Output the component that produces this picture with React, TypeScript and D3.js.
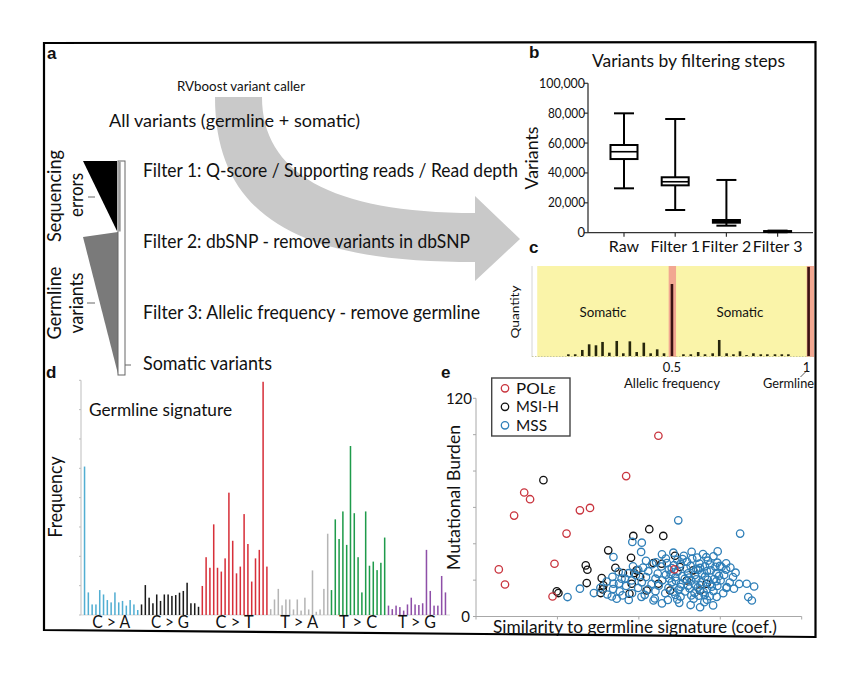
import React from 'react'
import * as d3 from 'd3'

// fonts / colours
const FONT = 'Lato, "Open Sans", "Liberation Sans", sans-serif'
const BOLD = '"Liberation Sans", Arial, sans-serif'
const INK = '#111111'

// ---- panel b: variants by filtering step (box plot)
const boxSteps = ['Raw', 'Filter 1', 'Filter 2', 'Filter 3']
const boxMin = [29700, 15200, 4700, 300]
const boxQ1 = [49300, 31700, 6700, 500]
const boxMedian = [54200, 34100, 7600, 800]
const boxQ3 = [58700, 37100, 8500, 1100]
const boxMax = [79900, 76100, 35300, 1400]
const boxTicks = [0, 20000, 40000, 60000, 80000, 100000]

// ---- panel c: allelic frequency histogram
const afBins = [0.121, 0.146, 0.172, 0.197, 0.222, 0.246, 0.271, 0.298, 0.322, 0.346, 0.371, 0.397, 0.422, 0.446, 0.471,
  0.542, 0.569, 0.596, 0.621, 0.649, 0.673, 0.7, 0.725, 0.749, 0.773, 0.798, 0.825, 0.849, 0.877, 0.902, 0.926]
const afQuantity = [1.9, 1.9, 6.7, 13, 11.9, 15.6, 3.7, 16.7, 3, 16.3, 4.4, 14.8, 3, 7.4, 3,
  1.9, 1.9, 4.4, 1.9, 3, 17.8, 3, 1.9, 5.2, 1, 3, 1.9, 1.9, 1.9, 1.9, 1.9]
const afPeaks = [0.5, 1]
const afPeakQuantity = [80, 99]

// ---- panel d: germline signature (96 channels)
const sigGroups = ['C > A', 'C > G', 'C > T', 'T > A', 'T > C', 'T > G']
const sigGroupSizes = [15, 16, 18, 16, 15, 16]
const sigColors = ['#52aed2', '#1a1a1a', '#d7303a', '#b5b5b5', '#1f9b4b', '#8e4fa8']
const sigValues = [
  5.06, 0.77, 0.36, 0.36, 0.85, 0.7, 0.51, 0.43, 0.77, 0.43, 0.48, 0.32, 0.51, 0.36, 0.17,
  0.36, 1.02, 0.59, 0.4, 0.7, 0.48, 0.7, 0.7, 0.65, 0.68, 0.76, 0.82, 1.1, 0.4, 0.4, 0.28,
  0.99, 1.97, 1.61, 3.09, 1.61, 1.48, 1.93, 4.17, 2.53, 1.42, 1.65, 3.44, 2.42, 1.14, 1.93, 2.22, 7.95, 1.65,
  0.2, 0.53, 0.89, 0.33, 0.53, 0.53, 0.19, 0.53, 0.15, 0.59, 0.19, 1.52, 0.11, 0.19, 0.89, 2.77,
  0.85, 3.26, 2.59, 3.53, 2.39, 5.76, 3.47, 1.97, 0.77, 3.53, 1.68, 1.82, 1.53, 1.78, 2.64,
  0.32, 0.2, 0.32, 0.27, 0.15, 0.36, 0.59, 0.36, 0.34, 0.4, 2.22, 0.82, 0.32, 0.32, 1.33, 0.77,
]
const sigTicks = [0, 1, 2, 3, 4, 5, 6, 7, 8]

// ---- panel e: mutational burden vs similarity
const burdenTicks = [0, 20, 40, 60, 80, 100, 120]
const similarityTicks = [0, 0.25, 0.5, 0.75, 1]
const poleData = [[0.56, 99.4], [0.461, 77.2], [0.148, 68.2], [0.166, 64.5], [0.117, 55.5], [0.319, 58.4], [0.35, 59.7],
  [0.278, 45.6], [0.241, 29.0], [0.07, 25.9], [0.089, 17.6], [0.235, 11.0], [0.609, 25.9]]
const msiData = [[0.207, 75.0], [0.532, 48.0], [0.483, 44.3], [0.575, 44.3], [0.406, 36.4], [0.476, 32.3], [0.337, 28.1],
  [0.342, 25.7], [0.428, 26.8], [0.451, 23.9], [0.493, 25.4], [0.486, 23.9], [0.386, 21.1], [0.34, 18.4], [0.391, 17.1],
  [0.389, 14.9], [0.248, 13.8], [0.253, 12.9], [0.383, 12.9], [0.471, 12.5], [0.504, 21.7], [0.545, 29.4], [0.57, 29.0],
  [0.611, 33.4], [0.626, 27.2], [0.56, 18.0], [0.596, 14.3], [0.647, 19.8], [0.667, 25.4], [0.688, 14.3], [0.708, 18.0],
  [0.524, 14.3], [0.478, 18.0]]
const mssData = [[0.621, 52.9], [0.811, 45.6], [0.48, 41.0], [0.509, 40.6], [0.507, 35.5], [0.422, 32.7], [0.319, 15.3],
  [0.281, 10.7], [0.417, 11.0], [0.45, 11.6], [0.422, 18.0], [0.447, 20.8], [0.831, 18.0], [0.854, 16.5], [0.847, 8.8],
  [0.836, 10.7], [0.792, 15.3], [0.77, 16.2], [0.754, 27.2], [0.688, 5.1], [0.624, 7.5], [0.545, 8.8],
  [0.571, 34.2], [0.606, 35.1], [0.638, 33.4], [0.662, 35.6], [0.697, 34.3], [0.729, 33.1], [0.742, 35.8],
  [0.522, 30.6], [0.553, 29.8], [0.583, 31.9], [0.618, 31.2], [0.648, 30.1], [0.679, 32.4], [0.712, 30.7], [0.741, 29.6], [0.768, 29.2],
  [0.482, 27.6], [0.513, 26.9], [0.541, 28.8], [0.569, 27.5], [0.601, 26.6], [0.628, 28.9], [0.659, 27.8], [0.688, 26.7], [0.718, 28.6], [0.749, 27.8], [0.781, 26.9],
  [0.438, 24.6], [0.468, 23.8], [0.498, 25.7], [0.529, 24.9], [0.558, 23.6], [0.592, 25.8], [0.619, 24.7], [0.651, 23.7], [0.682, 25.6], [0.709, 24.9], [0.738, 23.8], [0.768, 25.8], [0.797, 24.1],
  [0.419, 21.8], [0.458, 20.9], [0.491, 22.7], [0.522, 21.7], [0.551, 20.8], [0.583, 22.9], [0.612, 21.6], [0.641, 20.7], [0.672, 22.8], [0.703, 21.9], [0.731, 20.6], [0.762, 22.8], [0.789, 21.7],
  [0.401, 19.2], [0.439, 18.1], [0.478, 19.8], [0.509, 18.8], [0.539, 17.9], [0.572, 19.9], [0.601, 18.8], [0.629, 17.8], [0.661, 19.7], [0.692, 18.9], [0.719, 17.9], [0.751, 19.8], [0.779, 18.7], [0.808, 17.9],
  [0.382, 15.8], [0.421, 15.1], [0.461, 16.8], [0.498, 15.7], [0.528, 14.9], [0.561, 16.9], [0.591, 15.8], [0.622, 14.8], [0.651, 16.9], [0.681, 15.9], [0.709, 14.9], [0.741, 16.8], [0.769, 15.7],
  [0.362, 12.9], [0.403, 12.1], [0.441, 13.8], [0.479, 12.8], [0.518, 11.9], [0.551, 13.9], [0.581, 12.8], [0.612, 11.9], [0.642, 13.8], [0.671, 12.9], [0.702, 11.8], [0.729, 13.9], [0.759, 12.8],
  [0.432, 9.8], [0.469, 9.1], [0.508, 10.8], [0.549, 9.9], [0.589, 9.1], [0.628, 10.9], [0.668, 9.8], [0.709, 9.2], [0.739, 10.8],
  [0.571, 7.2], [0.659, 6.3], [0.701, 7.9], [0.728, 6.1],
  [0.598, 23.4], [0.646, 26.4], [0.676, 20.4], [0.703, 27.6], [0.656, 15.4], [0.614, 19.6], [0.694, 23.6], [0.724, 16.4],
  [0.586, 29.4], [0.634, 31.6], [0.686, 29.1], [0.699, 13.4], [0.618, 9.4], [0.661, 11.6], [0.721, 25.4], [0.738, 19.4],
  [0.664, 31.8], [0.707, 32.6], [0.633, 22.2], [0.689, 17.2], [0.746, 22.3], [0.676, 26.2], [0.608, 28.2], [0.718, 11.2],
  [0.628, 16.2], [0.672, 17.6], [0.712, 20.2], [0.654, 21.4], [0.606, 13.6], [0.684, 11.4], [0.735, 27.3], [0.593, 20.9]]
const legendItems = ['POLε', 'MSI-H', 'MSS']
const legendColors = ['#c9343e', '#111111', '#2f7fb8']

// small text helper; len forces the width of the reference's narrow font
function T(props: any) {
  const { x, y, size, anchor = 'start', len, weight, rotate, fill = INK, family = FONT, children } = props
  const common: any = {
    fontFamily: family, fontSize: size, textAnchor: anchor, fill, fontWeight: weight,
  }
  if (len) { common.textLength = len; common.lengthAdjust = 'spacingAndGlyphs' }
  if (rotate) {
    return <text transform={`translate(${x},${y}) rotate(-90)`} {...common}>{children}</text>
  }
  return <text x={x} y={y} {...common}>{children}</text>
}

function PanelA() {
  return (
    <g>
      {/* big curved arrow */}
      <path d="M215,97 C215,230 320,262 475,262 L475,281 L520,239 L475,196 L475,213 C330,213 262,172 262,97 Z" fill="#c9c9c9" />
      {/* filtering wedges */}
      <path d="M83,161 L117,161 L117,231 Z" fill="#000" />
      <path d="M83,237 L118,232 L118,374 Z" fill="#7a7a7a" />
      <rect x={118} y={161} width={7} height={214} fill="#fff" stroke="#666" strokeWidth={1} />
      <rect x={118.5} y={161.5} width={2.2} height={70} fill="#999" />
      <line x1={88} y1={197} x2={95} y2={197} stroke="#666" />
      <line x1={87} y1={303} x2={95} y2={303} stroke="#666" />
      <line x1={125} y1={365} x2={131} y2={365} stroke="#666" />
      <T x={47} y={59} size={17} weight="bold" family={BOLD}>a</T>
      <T x={177} y={91} size={13} len={128}>RVboost variant caller</T>
      <T x={109} y={127} size={18} len={251}>All variants (germline + somatic)</T>
      <T x={143} y={177} size={19} len={375}>Filter 1: Q-score / Supporting reads / Read depth</T>
      <T x={143} y={248} size={19} len={327}>Filter 2: dbSNP - remove variants in dbSNP</T>
      <T x={143} y={319} size={19} len={337}>Filter 3: Allelic frequency - remove germline</T>
      <T x={143} y={370} size={19} len={129}>Somatic variants</T>
      <T x={61} y={196} size={19} anchor="middle" rotate len={92}>Sequencing</T>
      <T x={83} y={195} size={19} anchor="middle" rotate len={44}>errors</T>
      <T x={61} y={303} size={19} anchor="middle" rotate len={73}>Germline</T>
      <T x={83} y={303} size={19} anchor="middle" rotate len={61}>variants</T>
    </g>
  )
}

function PanelB() {
  const x = d3.scaleBand().domain(boxSteps).range([598.4, 803.2])
  const y = d3.scaleLinear().domain([0, 100000]).range([232.7, 83.3])
  const boxW = 27
  const capW = 20
  return (
    <g>
      <T x={529} y={58} size={17} weight="bold" family={BOLD}>b</T>
      <T x={688.5} y={67} size={17} anchor="middle" len={193}>Variants by filtering steps</T>
      <line x1={588} y1={y(100000)} x2={588} y2={y(0)} stroke="#333" strokeWidth={1.3} />
      <line x1={588} y1={y(0)} x2={813} y2={y(0)} stroke="#333" strokeWidth={1.3} />
      {boxTicks.map((t) => (
        <g key={t}>
          <line x1={584} x2={588} y1={y(t)} y2={y(t)} stroke="#333" strokeWidth={1.2} />
          <T x={585} y={y(t) + 4.5} size={13} anchor="end" len={t === 0 ? undefined : t === 100000 ? 46 : 37}>{d3.format(',')(t)}</T>
        </g>
      ))}
      <T x={538} y={158} size={18} anchor="middle" rotate len={63}>Variants</T>
      {boxSteps.map((s, i) => {
        const cx = (x(s) as number) + x.bandwidth() / 2
        return (
          <g key={s}>
            <line x1={cx} x2={cx} y1={y(0)} y2={y(0) + 4} stroke="#333" strokeWidth={1.2} />
            <T x={cx} y={252} size={16} anchor="middle">{s}</T>
            <line x1={cx} x2={cx} y1={y(boxMin[i])} y2={y(boxMax[i])} stroke="#000" strokeWidth={2} />
            <line x1={cx - capW / 2} x2={cx + capW / 2} y1={y(boxMax[i])} y2={y(boxMax[i])} stroke="#000" strokeWidth={2} />
            <line x1={cx - capW / 2} x2={cx + capW / 2} y1={y(boxMin[i])} y2={y(boxMin[i])} stroke="#000" strokeWidth={2} />
            <rect x={cx - boxW / 2} width={boxW} y={y(boxQ3[i])} height={y(boxQ1[i]) - y(boxQ3[i])} fill="#fff" stroke="#000" strokeWidth={2} />
            <line x1={cx - boxW / 2} x2={cx + boxW / 2} y1={y(boxMedian[i])} y2={y(boxMedian[i])} stroke="#000" strokeWidth={1.6} />
          </g>
        )
      })}
    </g>
  )
}

function PanelC() {
  const x = d3.scaleLinear().domain([0, 1]).range([535.3, 808.6])
  const y = d3.scaleLinear().domain([0, 100]).range([356, 266])
  return (
    <g>
      <T x={529} y={253} size={17} weight="bold" family={BOLD}>c</T>
      <rect x={x(0.007)} y={266} width={x(1.02) - x(0.007)} height={91} fill="#faf4a9" />
      <rect x={x(0.488)} y={266} width={x(0.515) - x(0.488)} height={91} fill="#f2a791" />
      <rect x={x(0.993)} y={266} width={x(1.02) - x(0.993)} height={91} fill="#f2a791" />
      <line x1={532} x2={532} y1={266} y2={357} stroke="#d4d4d4" strokeWidth={1} />
      <line x1={532} x2={812} y1={356.5} y2={356.5} stroke="#c8c8a0" strokeWidth={1} strokeDasharray="1.5,1.5" />
      {afBins.map((f, i) => (
        <rect key={i} x={x(f) - 1.3} width={2.6} y={y(afQuantity[i])} height={y(0) - y(afQuantity[i])} fill="#26260c" />
      ))}
      {afPeaks.map((f, i) => (
        <rect key={f} x={x(f) - 1.3} width={2.6} y={y(afPeakQuantity[i])} height={y(0) - y(afPeakQuantity[i])} fill="#3b1212" />
      ))}
      <T x={603} y={317} size={14} anchor="middle" len={47}>Somatic</T>
      <T x={740} y={317} size={14} anchor="middle" len={47}>Somatic</T>
      <T x={519} y={312} size={12} anchor="middle" rotate len={53}>Quantity</T>
      <T x={x(0.5)} y={372} size={13} anchor="middle">0.5</T>
      <T x={x(1) - 2} y={372} size={13} anchor="middle">1</T>
      <line x1={800.5} y1={377} x2={807.5} y2={370} stroke="#333" strokeWidth={0.8} />
      <T x={672} y={388} size={14} anchor="middle" len={96}>Allelic frequency</T>
      <T x={814} y={388} size={14} anchor="end" len={51}>Germline</T>
    </g>
  )
}

function PanelD() {
  const n = sigValues.length
  const x = d3.scaleBand<number>().domain(d3.range(n)).range([81.5, 448.5]).padding(0.6)
  const y = d3.scaleLinear().domain([0, 8]).range([615, 380.3])
  const groupOf: number[] = []
  sigGroupSizes.forEach((s, g) => { for (let k = 0; k < s; k++) groupOf.push(g) })
  let start = 0
  const groupCenters = sigGroupSizes.map((s) => {
    const c = ((x(start) as number) + (x(start + s - 1) as number)) / 2 + x.bandwidth() / 2
    start += s
    return c
  })
  return (
    <g>
      <T x={46} y={378} size={17} weight="bold" family={BOLD}>d</T>
      <line x1={81} x2={81} y1={y(8)} y2={y(0)} stroke="#bdbdbd" strokeWidth={1} />
      {sigTicks.map((t) => (
        <line key={t} x1={79} x2={81} y1={y(t)} y2={y(t)} stroke="#bdbdbd" strokeWidth={1} />
      ))}
      <line x1={81} x2={450} y1={y(0)} y2={y(0)} stroke="#cfcfcf" strokeWidth={0.8} />
      {sigValues.map((v, i) => (
        <rect key={i} x={x(i)} width={x.bandwidth()} y={y(v)} height={y(0) - y(v)} fill={sigColors[groupOf[i]]} />
      ))}
      <T x={89} y={416} size={17} len={143}>Germline signature</T>
      <T x={62} y={497} size={19} anchor="middle" rotate len={81}>Frequency</T>
      {sigGroups.map((g, i) => (
        <T key={g} x={groupCenters[i]} y={628} size={17} anchor="middle" len={38}>{g}</T>
      ))}
    </g>
  )
}

function PanelE() {
  const x = d3.scaleLinear().domain([0, 1]).range([476, 801.7])
  const y = d3.scaleLinear().domain([0, 120]).range([616.5, 398.3])
  const r = 3.7
  const rowH = 18.5
  const series = [
    { data: msiData, color: legendColors[1] },
    { data: mssData, color: legendColors[2] },
    { data: poleData, color: legendColors[0] },
  ]
  return (
    <g>
      <T x={441} y={378} size={17} weight="bold" family={BOLD}>e</T>
      <line x1={476} x2={476} y1={y(120)} y2={y(0)} stroke="#a8a8a8" strokeWidth={1} />
      <line x1={476} x2={801.7} y1={y(0)} y2={y(0)} stroke="#a8a8a8" strokeWidth={1} />
      {burdenTicks.map((t) => (
        <line key={t} x1={473} x2={476} y1={y(t)} y2={y(t)} stroke="#a8a8a8" strokeWidth={1} />
      ))}
      {similarityTicks.map((t) => (
        <line key={t} x1={x(t)} x2={x(t)} y1={y(0)} y2={y(0) + 3} stroke="#a8a8a8" strokeWidth={1} />
      ))}
      <T x={472} y={403.5} size={15} anchor="end">120</T>
      <T x={470} y={621.5} size={15} anchor="end">0</T>
      <T x={460} y={497.5} size={18} anchor="middle" rotate len={145}>Mutational Burden</T>
      <T x={635} y={633} size={17} anchor="middle" len={284}>Similarity to germline signature (coef.)</T>
      {series.map((s, si) => (
        <g key={si}>
          {s.data.map((p, i) => (
            <circle key={i} cx={x(p[0])} cy={y(p[1])} r={r} fill="none" stroke={s.color} strokeWidth={1.3} />
          ))}
        </g>
      ))}
      <rect x={491.7} y={378} width={78.3} height={58} fill="#fff" stroke="#444" strokeWidth={1.4} />
      {legendItems.map((l, i) => (
        <g key={l}>
          <circle cx={505} cy={388.3 + i * rowH} r={r} fill="none" stroke={legendColors[i]} strokeWidth={1.3} />
          <T x={516} y={393.6 + i * rowH} size={15.5} len={l === 'MSS' ? 31 : l === 'POLε' ? 40 : 43}>{l}</T>
        </g>
      ))}
    </g>
  )
}

export default function App() {
  return (
    <svg width={855} height={673} viewBox="0 0 855 673"
      style={{ position: 'absolute', left: 0, top: 0, background: '#fff' }}>
      <rect x={0} y={0} width={855} height={673} fill="#fff" />
      <PanelA />
      <PanelB />
      <PanelC />
      <PanelD />
      <PanelE />
      <path d="M44,43 L815.5,42 L815.5,637 L44,630 Z" fill="none" stroke="#000" strokeWidth={2.2} />
    </svg>
  )
}
